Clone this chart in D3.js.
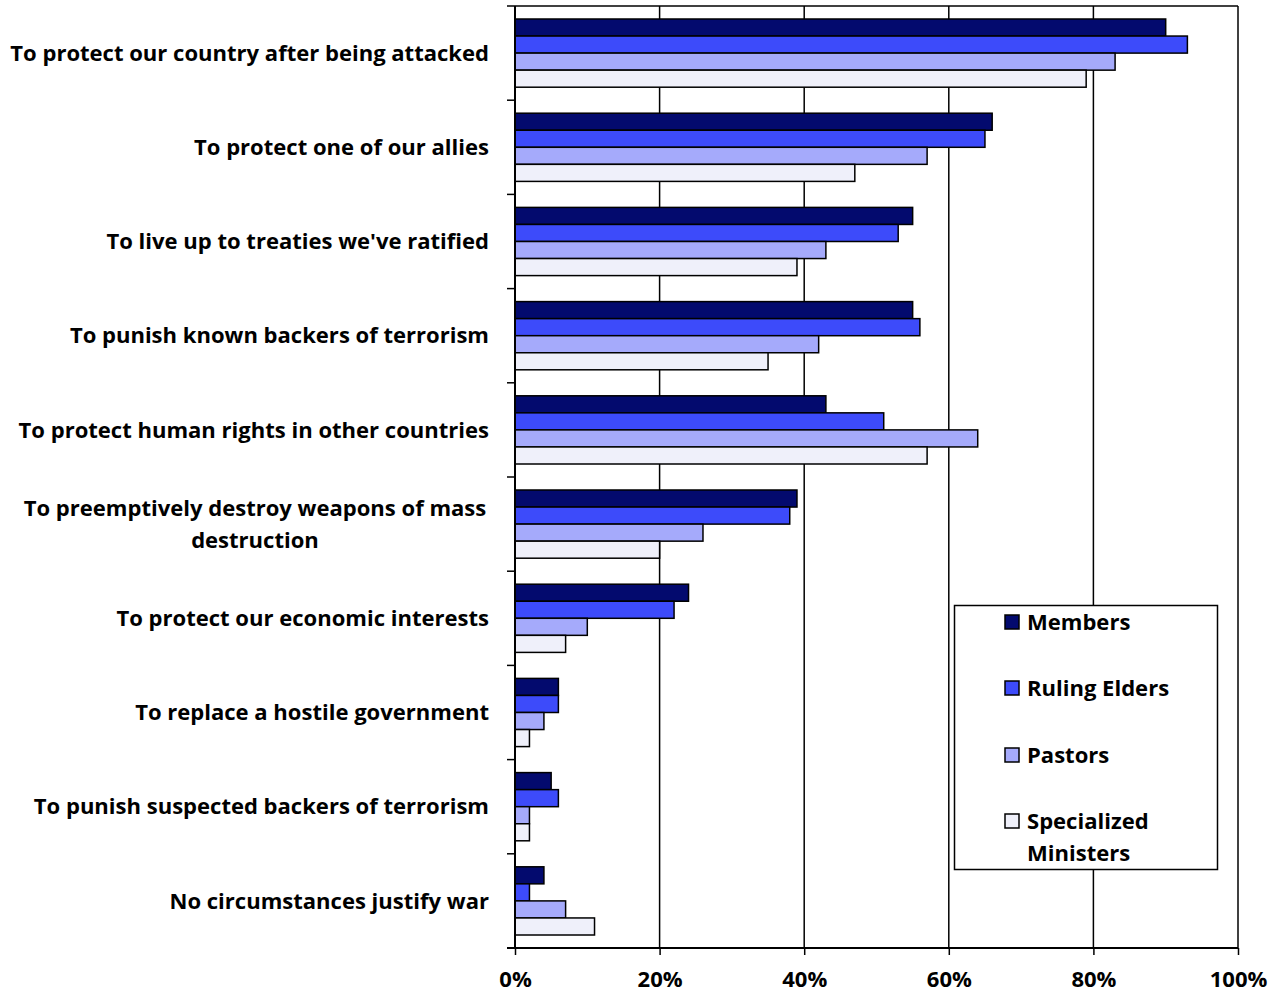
<!DOCTYPE html>
<html><head><meta charset="utf-8">
<script src="https://cdn.jsdelivr.net/npm/d3@7"></script>
<style>
body{margin:0;background:#fff;}
text{font-family:"Open Sans",Lato,sans-serif;font-weight:700;fill:#000;}
</style></head>
<body><svg id="c" width="1275" height="995"></svg>
<script>
const categories = [
  ["To protect our country after being attacked"],
  ["To protect one of our allies"],
  ["To live up to treaties we've ratified"],
  ["To punish known backers of terrorism"],
  ["To protect human rights in other countries"],
  ["To preemptively destroy weapons of mass","destruction"],
  ["To protect our economic interests"],
  ["To replace a hostile government"],
  ["To punish suspected backers of terrorism"],
  ["No circumstances justify war"]
];
const seriesNames = ["Members","Ruling Elders","Pastors","Specialized Ministers"];
const members       = [90,66,55,55,43,39,24,6,5,4];
const rulingElders  = [93,65,53,56,51,38,22,6,6,2];
const pastors       = [83,57,43,42,64,26,10,4,2,7];
const specialized   = [79,47,39,35,57,20,7,2,2,11];
const xTicks = [0,20,40,60,80,100];
const colors = ["#030A6E","#3D4BFA","#A5AAFB","#EFF0FA"];

const series = [members, rulingElders, pastors, specialized];
const svg = d3.select("#c");
const L = 515, R = 1238, T = 6, B = 948;
const x = d3.scaleLinear().domain([0,100]).range([L,R]);
const y = d3.scaleBand().domain(d3.range(categories.length)).range([T,B]).paddingInner(0.276).paddingOuter(0.138);
const ys = d3.scaleBand().domain(d3.range(series.length)).range([0,y.bandwidth()]);

const probe = svg.append("text").style("font-size","22px").text(categories[0][0]);
const w22 = probe.node().getComputedTextLength();
probe.remove();
const fs = Math.min(24, 22*479/w22);

svg.append("g").selectAll("line").data(xTicks.slice(1)).join("line")
  .attr("x1",d=>x(d)).attr("x2",d=>x(d)).attr("y1",T).attr("y2",B)
  .attr("stroke","#000").attr("stroke-width",1.5);
svg.append("line").attr("x1",L).attr("x2",R).attr("y1",T).attr("y2",T).attr("stroke","#000").attr("stroke-width",1.5);

series.forEach((vals,si)=>{
  svg.append("g").selectAll("rect").data(vals).join("rect")
    .attr("x",x(0)).attr("y",(d,i)=>y(i)+ys(si))
    .attr("width",d=>x(d)-x(0)).attr("height",ys.bandwidth())
    .attr("fill",colors[si]).attr("stroke","#000").attr("stroke-width",1.5);
});

const xAxis = d3.axisBottom(x).tickValues(xTicks).tickSize(7).tickFormat(d=>d+"%");
const gx = svg.append("g").attr("transform",`translate(0,${B})`).call(xAxis);
gx.select(".domain").attr("stroke-width",2).attr("d",`M${L-8},0H${R}`);
gx.selectAll(".tick line").attr("stroke-width",1.5);
gx.selectAll(".tick text").attr("y",23).attr("dy","0.71em").style("font-size",fs+"px").style("font-family","'Open Sans', sans-serif").style("font-weight","700");

const boundaries = d3.range(categories.length+1).map(i=>T + i*(B-T)/categories.length);
svg.append("line").attr("x1",L).attr("x2",L).attr("y1",T).attr("y2",B).attr("stroke","#000").attr("stroke-width",2);
svg.append("g").selectAll("line").data(boundaries).join("line")
  .attr("x1",L-8).attr("x2",L).attr("y1",d=>d).attr("y2",d=>d).attr("stroke","#000").attr("stroke-width",1.5);

categories.forEach((lines,i)=>{
  const cy = y(i) + y.bandwidth()/2;
  const t = svg.append("text").attr("text-anchor", lines.length>1?"middle":"end").style("font-size",fs+"px");
  const lh = 32;
  const xPos = lines.length>1 ? 255 : 489;
  lines.forEach((ln,j)=>{
    t.append("tspan").attr("x",xPos).attr("y",cy + (j-(lines.length-1)/2)*lh).attr("dy","0.35em").text(ln);
  });
});

const lg = svg.append("g");
lg.append("rect").attr("x",954.5).attr("y",605.5).attr("width",263).attr("height",264).attr("fill","#fff").attr("stroke","#000").attr("stroke-width",1.5);
const ly = [622,688,755,821];
seriesNames.forEach((n,i)=>{
  lg.append("rect").attr("x",1005).attr("y",ly[i]-7).attr("width",14).attr("height",14).attr("fill",colors[i]).attr("stroke","#000").attr("stroke-width",1.5);
  const t = lg.append("text").style("font-size",fs+"px");
  const parts = n==="Specialized Ministers" ? ["Specialized","Ministers"] : [n];
  parts.forEach((p,j)=>t.append("tspan").attr("x",1027).attr("y",ly[i]+j*32).attr("dy","0.35em").text(p));
});
</script></body></html>
